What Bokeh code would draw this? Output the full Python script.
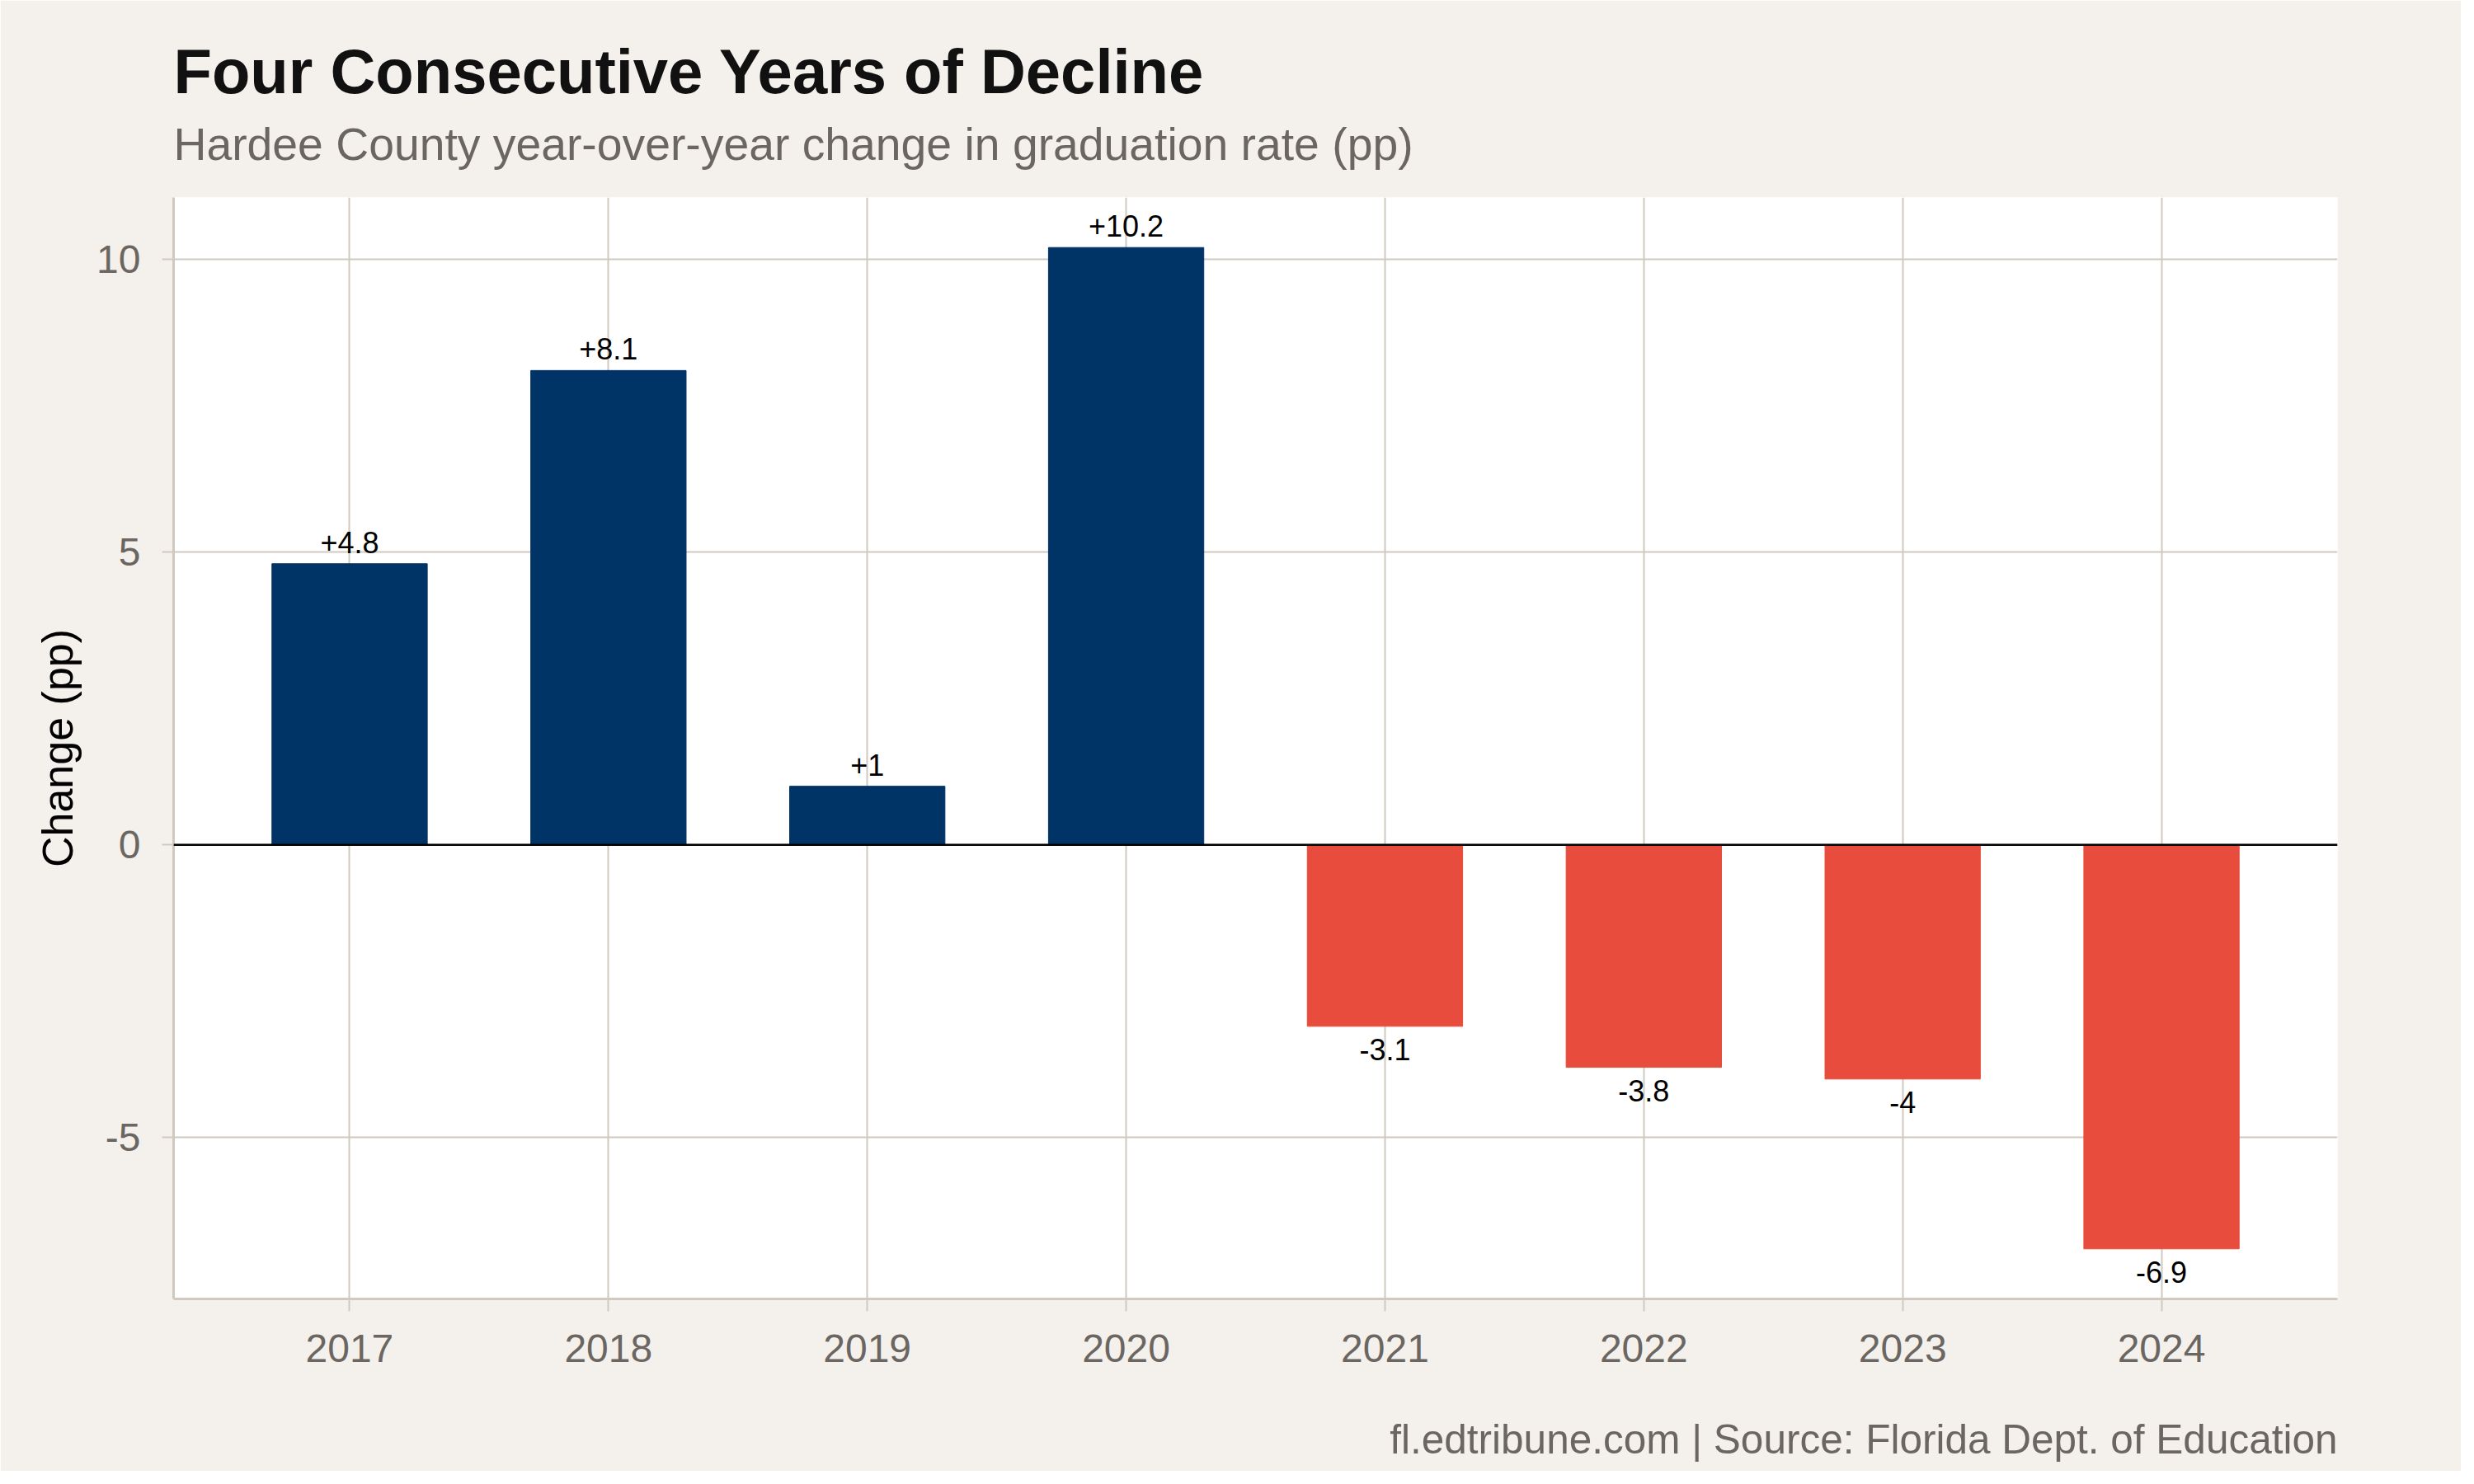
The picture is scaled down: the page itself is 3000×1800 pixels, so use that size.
from bokeh.plotting import figure
from bokeh.models import Range1d, Span, FixedTicker, ColumnDataSource, Title
from bokeh.core.properties import value
from bokeh.embed import file_html
from bokeh.resources import INLINE

# ---- data ----
years = [2017, 2018, 2019, 2020, 2021, 2022, 2023, 2024]
change = [4.8, 8.1, 1.0, 10.2, -3.1, -3.8, -4.0, -6.9]
y_ticks = [-5, 0, 5, 10]
baseline = 0

title_text = "Four Consecutive Years of Decline"
subtitle_text = "Hardee County year-over-year change in graduation rate (pp)"
caption_text = "fl.edtribune.com | Source: Florida Dept. of Education"
y_label = "Change (pp)"

# ---- style ----
FONT = "Liberation Sans"
BG = "#F4F1EC"
GRID = "#CFC9C0"
GREY_TXT = "#6B6661"
POS = "#003366"
NEG = "#E74C3C"

W, H = 2984, 1784
LEFT, TOP, RIGHT, BOTTOM = 210, 239, 150, 209

bar_w = 0.6
xpad = bar_w / 2
xlo, xhi = min(years) - xpad, max(years) + xpad
xe = 0.05 * (xhi - xlo)
ylo, yhi = min(change), max(change)
ye = 0.05 * (yhi - ylo)

labels = [("+" if v > 0 else "") + f"{v:g}" for v in change]
colors = [POS if v > 0 else NEG for v in change]
offs = [-26 if v > 0 else 28 for v in change]

src = ColumnDataSource(dict(x=years, top=change, color=colors, label=labels, off=offs))

p = figure(width=W, height=H, output_backend="svg", toolbar_location=None,
           x_range=Range1d(xlo - xe, xhi + xe), y_range=Range1d(ylo - ye, yhi + ye),
           min_border_left=LEFT, min_border_top=TOP, min_border_right=RIGHT,
           min_border_bottom=BOTTOM)
p.title.visible = False
p.background_fill_color = "white"
p.border_fill_color = BG
p.outline_line_color = None

# grids
p.xgrid.ticker = FixedTicker(ticks=years)
p.ygrid.ticker = FixedTicker(ticks=y_ticks)
for g in (p.xgrid, p.ygrid):
    g.grid_line_color = GRID
    g.grid_line_width = 2

# axes
p.xaxis.ticker = FixedTicker(ticks=years)
p.xaxis.major_label_overrides = {y: str(y) for y in years}
p.yaxis.ticker = FixedTicker(ticks=y_ticks)
p.yaxis.major_label_overrides = {t: str(t) for t in y_ticks}
for ax in (p.xaxis, p.yaxis):
    ax.axis_line_color = GRID
    ax.axis_line_width = 3
    ax.major_tick_line_color = GRID
    ax.major_tick_line_width = 2
    ax.major_tick_in = 0
    ax.minor_tick_line_color = None
    ax.major_label_text_font = FONT
    ax.major_label_text_font_size = "48px"
    ax.major_label_text_color = GREY_TXT
p.xaxis.major_tick_out = 15
p.yaxis.major_tick_out = 14
p.xaxis.major_label_standoff = 28
p.yaxis.major_label_standoff = 26
p.yaxis.axis_label = y_label
p.yaxis.axis_label_text_font = FONT
p.yaxis.axis_label_text_font_size = "52px"
p.yaxis.axis_label_text_font_style = "normal"
p.yaxis.axis_label_text_color = "black"
p.yaxis.axis_label_standoff = 15

# bars
p.vbar(x="x", top="top", bottom=baseline, width=bar_w, color="color", source=src)
p.add_layout(Span(location=baseline, dimension="width", line_color="black", line_width=2.5))

# bar labels
p.text(x="x", y="top", text="label", y_offset="off", source=src,
       text_font=value(FONT), text_font_size="36px", text_color="black",
       text_align="center", text_baseline="alphabetic")

# spacer, subtitle, title (stacked outward from the frame)
p.add_layout(Title(text=" ", text_font_size="1px", standoff=31), "above")
p.add_layout(Title(text=subtitle_text, text_font=FONT, text_font_size="55.3px",
                   text_font_style="normal", text_color=GREY_TXT, align="left",
                   standoff=0, offset=0), "above")
p.add_layout(Title(text=title_text, text_font=FONT, text_font_size="76px",
                   text_font_style="bold", text_color="#111111", align="left",
                   standoff=26, offset=0), "above")
# spacer, caption
p.add_layout(Title(text=" ", text_font_size="1px", standoff=58), "below")
p.add_layout(Title(text=caption_text, text_font=FONT, text_font_size="49.5px",
                   text_font_style="normal", text_color=GREY_TXT, align="right",
                   standoff=0, offset=0), "below")

open("out.html", "w").write(file_html(p, INLINE))
